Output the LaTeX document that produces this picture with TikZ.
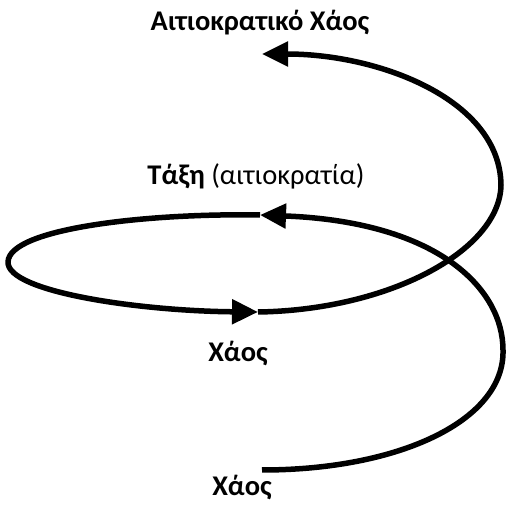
\documentclass[tikz,border=0pt]{standalone}
\usepackage{fontspec}
\setmainfont{Carlito}
\usetikzlibrary{arrows.meta}
\begin{document}
\begin{tikzpicture}[x=1pt,y=-1pt,
  curve/.style={line width=5.5pt, line join=round},
  tip/.style={-{Triangle[length=26pt,width=24pt]}},
  lbl/.style={anchor=base, inner sep=0pt, font=\fontsize{28.5}{34}\selectfont}]
\useasboundingbox (0,0) rectangle (507,505);
\coordinate (s0) at (262,470);
\coordinate (rb) at (503,350);
\coordinate (m1) at (260,215);
\coordinate (lf) at (8,262);
\coordinate (m2) at (258,312);
\coordinate (rt) at (501,185);
\coordinate (m3) at (262,54);
\draw[curve,tip] (s0) .. controls (400,470) and (505,420) .. (rb)
  .. controls (503,290) and (440,222) .. (m1);
\draw[curve,tip] (m1) .. controls (150,213) and (9,228) .. (lf)
  .. controls (7,292) and (140,311) .. (m2);
\draw[curve,tip] (m2) .. controls (390,310) and (500,250) .. (rt)
  .. controls (500,100) and (380,54) .. (m3);
\node[lbl] (t1) at (260,31) {\textbf{Αιτιοκρατικό Χάος}};
\node[lbl] (t2) at (256,185) {\textbf{Τάξη} (αιτιοκρατία)};
\node[lbl] (t3) at (238,362) {\textbf{Χάος}};
\node[lbl] (t4) at (242,496) {\textbf{Χάος}};
\end{tikzpicture}
\end{document}
